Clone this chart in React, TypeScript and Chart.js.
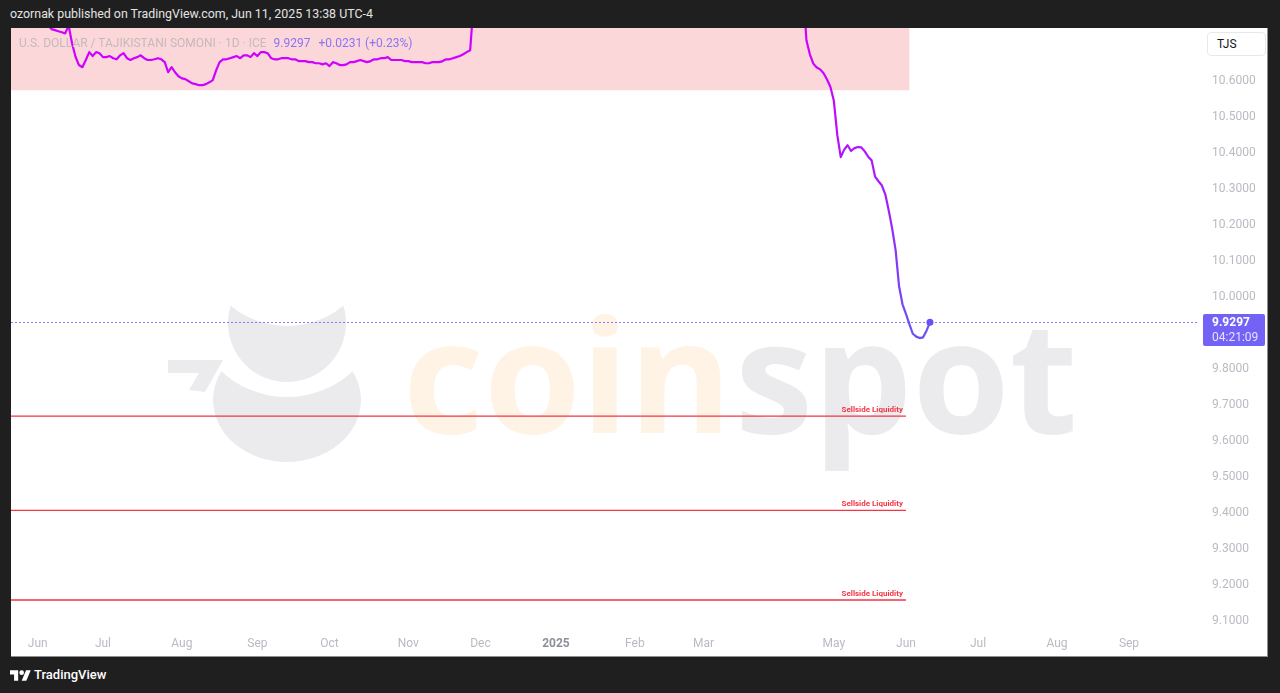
import React, { useEffect, useRef } from 'react';
import { Chart, registerables } from 'chart.js';

Chart.register(...registerables);

// ---------- data ----------
// bar index: 0 = first trading day of Jul 2024 (daily, weekdays only)
const barIndex = [
  -27, -24, -20, -17, -16, -15, -14, -13, -12, -11, -10, -9, -8, -7, -6, -5, -4, -3, -2, -1,
  0, 1, 2, 3, 4, 5, 6, 7, 8, 9, 10, 11, 12, 13, 14, 15, 16, 17, 18, 19,
  20, 21, 22, 23, 24, 25, 26, 27, 28, 29, 30, 31, 32, 33, 34, 35, 36, 37, 38, 39,
  40, 41, 42, 43, 44, 45, 46, 47, 48, 49, 50, 51, 52, 53, 54, 55, 56, 57, 58, 59,
  60, 61, 62, 63, 64, 65, 66, 67, 68, 69, 70, 71, 72, 73, 74, 75, 76, 77, 78, 79,
  80, 81, 82, 83, 84, 85, 86, 87, 88, 89, 90, 91, 92, 93, 94, 95, 96, 97, 98, 99,
  100, 101, 102, 103, 104, 105, 106, 107, 108, 110, 114, 120, 128, 136, 146, 156, 166, 176, 186, 194,
  200, 203, 204, 205, 206, 207, 208, 209, 210, 211, 212, 213, 214, 215, 216, 217, 218, 219, 220, 221,
  222, 223, 224, 225, 226, 227, 228, 229, 230, 231, 232, 233, 234, 235, 236, 237, 238, 239, 240, 241,
];
const closes = [
  10.780, 10.792, 10.772, 10.764, 10.756, 10.745, 10.742, 10.739, 10.736, 10.733, 10.755, 10.705, 10.668, 10.645, 10.639, 10.659, 10.681, 10.670, 10.681, 10.678,
  10.667, 10.667, 10.670, 10.664, 10.661, 10.672, 10.678, 10.664, 10.659, 10.664, 10.667, 10.672, 10.664, 10.659, 10.659, 10.661, 10.664, 10.661, 10.653, 10.625,
  10.639, 10.625, 10.614, 10.608, 10.606, 10.600, 10.594, 10.592, 10.589, 10.589, 10.592, 10.597, 10.603, 10.631, 10.653, 10.661, 10.661, 10.664, 10.667, 10.670,
  10.664, 10.672, 10.672, 10.667, 10.678, 10.670, 10.681, 10.681, 10.678, 10.664, 10.661, 10.661, 10.664, 10.664, 10.664, 10.661, 10.661, 10.656, 10.656, 10.656,
  10.653, 10.653, 10.650, 10.650, 10.647, 10.650, 10.642, 10.653, 10.650, 10.645, 10.645, 10.647, 10.653, 10.653, 10.656, 10.659, 10.656, 10.653, 10.656, 10.661,
  10.661, 10.664, 10.664, 10.667, 10.659, 10.659, 10.659, 10.659, 10.656, 10.656, 10.653, 10.653, 10.653, 10.653, 10.650, 10.650, 10.653, 10.653, 10.653, 10.656,
  10.661, 10.661, 10.664, 10.667, 10.670, 10.675, 10.681, 10.686, 10.815, 10.905, 10.930, 10.942, 10.936, 10.948, 10.951, 10.944, 10.955, 10.950, 10.948, 10.940,
  10.920, 10.895, 10.860, 10.714, 10.675, 10.649, 10.638, 10.633, 10.622, 10.605, 10.584, 10.545, 10.450, 10.389, 10.410, 10.422, 10.406, 10.414, 10.417, 10.416,
  10.405, 10.390, 10.380, 10.335, 10.322, 10.310, 10.285, 10.240, 10.190, 10.130, 10.030, 9.980, 9.953, 9.925, 9.898, 9.890, 9.886, 9.888, 9.9066, 9.9297,
];

const monthTickBars = [-19, 0, 23, 45, 66, 89, 110, 132, 155, 175, 213, 234, 255, 278, 299];
const monthTickLabels = ['Jun', 'Jul', 'Aug', 'Sep', 'Oct', 'Nov', 'Dec', '2025', 'Feb', 'Mar', 'May', 'Jun', 'Jul', 'Aug', 'Sep'];

const priceTicks = [9.1, 9.2, 9.3, 9.4, 9.5, 9.6, 9.7, 9.8, 9.9, 10.0, 10.1, 10.2, 10.3, 10.4, 10.5, 10.6];
const hiddenPriceTicks = [9.9];

const liquidityLevels = [9.669, 9.407, 9.158];
const liquidityEndBar = 234;
const liquidityLabel = 'Sellside Liquidity';

const zoneEndBar = 235;
const zoneBottom = 10.575;

const lastPrice = 9.9297;
const priceChange = '+0.0231 (+0.23%)';
const countdown = '04:21:09';

const X_MIN = -26.8;
const X_MAX = 319.4;
const Y_MIN = 9.080;
const Y_MAX = 10.748;

const FONT = 'Roboto, "Noto Sans", Arial, sans-serif';

function drawWatermark(ctx: CanvasRenderingContext2D) {
  // canvas placed at page (11, 28)
  const ox = -11;
  const oy = -28;
  const gray = '#ebebee';
  ctx.save();
  ctx.translate(ox, oy);
  // lower body
  ctx.save();
  ctx.beginPath();
  ctx.rect(0, 0, 1400, 800);
  ctx.arc(287, 300, 97, 0, Math.PI * 2);
  ctx.clip('evenodd');
  ctx.fillStyle = gray;
  ctx.beginPath();
  ctx.ellipse(287, 400, 74, 62, 0, 0, Math.PI * 2);
  ctx.fill();
  ctx.restore();
  // upper head
  ctx.save();
  ctx.beginPath();
  ctx.rect(0, 0, 1400, 800);
  ctx.arc(287, 238, 88, 0, Math.PI * 2);
  ctx.clip('evenodd');
  ctx.fillStyle = gray;
  ctx.beginPath();
  ctx.arc(287, 323, 59, 0, Math.PI * 2);
  ctx.fill();
  ctx.restore();
  // small hook
  ctx.fillStyle = gray;
  ctx.beginPath();
  ctx.moveTo(168, 360);
  ctx.lineTo(223, 360);
  ctx.lineTo(205, 392);
  ctx.lineTo(189, 390);
  ctx.lineTo(199, 373);
  ctx.lineTo(168, 373);
  ctx.closePath();
  ctx.fill();
  // text
  ctx.font = 'bold 157px "Open Sans", sans-serif';
  ctx.textBaseline = 'alphabetic';
  ctx.textAlign = 'left';
  ctx.fillStyle = '#fef3e4';
  ctx.fillText('coin', 403, 433);
  const w = ctx.measureText('coin').width;
  ctx.fillStyle = gray;
  ctx.fillText('spot', 403 + w + 3, 433);
  ctx.restore();
}

const overlayPlugin = {
  id: 'tvOverlay',
  beforeDatasetsDraw(chart: any) {
    const { ctx, chartArea, scales } = chart;
    const x = scales.x;
    const y = scales.y;
    drawWatermark(ctx);
    // zone rectangle
    ctx.save();
    ctx.fillStyle = 'rgba(242,54,69,0.2)';
    const x1 = x.getPixelForValue(zoneEndBar);
    const y1 = y.getPixelForValue(zoneBottom);
    ctx.fillRect(chartArea.left, chartArea.top, x1 - chartArea.left, y1 - chartArea.top);
    // dotted last price line
    const yy = Math.round(y.getPixelForValue(lastPrice)) + 0.5;
    ctx.strokeStyle = 'rgba(110,90,255,0.8)';
    ctx.lineWidth = 1;
    ctx.setLineDash([2, 2]);
    ctx.beginPath();
    ctx.moveTo(chartArea.left, yy);
    ctx.lineTo(chartArea.right, yy);
    ctx.stroke();
    ctx.restore();
  },
  afterDatasetsDraw(chart: any) {
    const { ctx, scales } = chart;
    const x = scales.x;
    const y = scales.y;
    ctx.save();
    ctx.font = `bold 8px ${FONT}`;
    ctx.fillStyle = '#f23645';
    ctx.textAlign = 'right';
    ctx.textBaseline = 'alphabetic';
    const xr = x.getPixelForValue(liquidityEndBar) - 3;
    liquidityLevels.forEach((lvl) => {
      ctx.fillText(liquidityLabel, xr, y.getPixelForValue(lvl) - 4);
    });
    ctx.restore();
  },
  afterDraw(chart: any) {
    const { ctx, chartArea, scales } = chart;
    const y = scales.y;
    const yy = y.getPixelForValue(lastPrice);
    const bx = chartArea.right + 4;
    const by = Math.round(yy) - 8;
    ctx.save();
    ctx.fillStyle = '#7262f5';
    ctx.beginPath();
    (ctx as any).roundRect(bx, by, 62, 32, 2);
    ctx.fill();
    ctx.textAlign = 'left';
    ctx.textBaseline = 'middle';
    ctx.fillStyle = '#ffffff';
    ctx.font = `bold 12px ${FONT}`;
    ctx.fillText(lastPrice.toFixed(4), bx + 9, by + 9);
    ctx.fillStyle = 'rgba(255,255,255,0.82)';
    ctx.font = `12px ${FONT}`;
    ctx.fillText(countdown, bx + 9, by + 24);
    ctx.restore();
  },
};

function lineGradient(context: any) {
  const chart = context.chart;
  const { chartArea, scales } = chart;
  if (!chartArea || !scales || !scales.y) return '#c000ff';
  const y0 = scales.y.getPixelForValue(10.65);
  const y1 = scales.y.getPixelForValue(9.9);
  const g = chart.ctx.createLinearGradient(0, y0, 0, y1);
  g.addColorStop(0, '#d000ff');
  g.addColorStop(0.45, '#a51cff');
  g.addColorStop(1, '#6a52f2');
  return g;
}

export default function App() {
  const canvasRef = useRef<HTMLCanvasElement | null>(null);

  useEffect(() => {
    if (!canvasRef.current) return;
    const mainData = barIndex.map((b, i) => ({ x: b, y: closes[i] }));
    const lastIdx = mainData.length - 1;
    const liqSets = liquidityLevels.map((lvl) => ({
      data: [
        { x: X_MIN, y: lvl },
        { x: liquidityEndBar, y: lvl },
      ],
      borderColor: '#f23645',
      borderWidth: 1.4,
      pointRadius: 0,
      tension: 0,
    }));
    const chart = new Chart(canvasRef.current, {
      type: 'line',
      data: {
        datasets: [
          {
            data: mainData,
            borderColor: lineGradient,
            backgroundColor: '#6a52f2',
            borderWidth: 2.2,
            tension: 0,
            pointRadius: (c: any) => (c.dataIndex === lastIdx ? 3.5 : 0),
            pointBackgroundColor: '#6a52f2',
            pointBorderWidth: 0,
            borderJoinStyle: 'round',
          } as any,
          ...liqSets,
        ],
      },
      options: {
        animation: false,
        responsive: false,
        events: [],
        layout: { padding: 0, autoPadding: false },
        plugins: {
          legend: { display: false },
          tooltip: { enabled: false },
        },
        scales: {
          x: {
            type: 'linear',
            min: X_MIN,
            max: X_MAX,
            grid: { display: false, drawTicks: false },
            border: { display: false },
            afterBuildTicks: (s: any) => {
              s.ticks = monthTickBars.map((v) => ({ value: v }));
            },
            afterFit: (s: any) => {
              s.height = 28;
              s.paddingLeft = 0;
              s.paddingRight = 0;
              s.paddingTop = 0;
              s.paddingBottom = 0;
            },
            ticks: {
              autoSkip: false,
              maxRotation: 0,
              padding: 9,
              font: (c: any) => ({
                family: FONT,
                size: 12,
                weight: c.tick && c.tick.label === '2025' ? 'bold' : 'normal',
              }),
              color: (c: any) => (c.tick && c.tick.label === '2025' ? '#8d909a' : '#b8bbc2'),
              callback: (v: any) => {
                const i = monthTickBars.indexOf(Number(v));
                return i >= 0 ? monthTickLabels[i] : '';
              },
            },
          },
          y: {
            type: 'linear',
            position: 'right',
            min: Y_MIN,
            max: Y_MAX,
            grid: { display: false, drawTicks: false },
            border: { display: false },
            afterBuildTicks: (s: any) => {
              s.ticks = priceTicks.map((v) => ({ value: v }));
            },
            afterFit: (s: any) => {
              s.width = 68;
              s.paddingLeft = 0;
              s.paddingRight = 0;
              s.paddingTop = 0;
              s.paddingBottom = 0;
            },
            ticks: {
              padding: 13,
              font: { family: FONT, size: 12 },
              color: '#b8bbc2',
              callback: (v: any) => {
                const n = Number(v);
                if (hiddenPriceTicks.some((h) => Math.abs(h - n) < 1e-6)) return '';
                return n.toFixed(4);
              },
            },
          },
        },
      } as any,
      plugins: [overlayPlugin],
    });
    return () => chart.destroy();
  }, []);

  return (
    <div
      style={{
        position: 'fixed',
        left: 0,
        top: 0,
        width: 1280,
        height: 693,
        background: '#1f1f1f',
        fontFamily: FONT,
        overflow: 'hidden',
      }}
    >
      <div
        style={{
          position: 'absolute',
          left: 10,
          top: 6,
          fontSize: 12.4,
          lineHeight: '16px',
          color: '#e3e3e3',
          whiteSpace: 'pre',
        }}
      >
        ozornak published on TradingView.com, Jun 11, 2025 13:38 UTC-4
      </div>
      <div
        style={{
          position: 'absolute',
          left: 11,
          top: 28,
          width: 1256,
          height: 628,
          background: '#ffffff',
          borderRight: '1px solid #8f8f8f',
          borderBottom: '1px solid #8f8f8f',
        }}
      >
        <canvas
          ref={canvasRef}
          width={1256}
          height={628}
          style={{ position: 'absolute', left: 0, top: 0, width: 1256, height: 628 }}
        />
        <div
          style={{
            position: 'absolute',
            left: 8,
            top: 8,
            fontSize: 12,
            lineHeight: '15px',
            color: '#c6b8bc',
            whiteSpace: 'pre',
          }}
        >
          U.S. DOLLAR / TAJIKISTANI SOMONI · 1D · ICE
          <span style={{ color: '#8a74f3', marginLeft: 7 }}>{lastPrice.toFixed(4)}</span>
          <span style={{ color: '#8a74f3', marginLeft: 8 }}>{priceChange}</span>
        </div>
        <div
          style={{
            position: 'absolute',
            left: 1196,
            top: 4,
            width: 48,
            height: 22,
            border: '1px solid #e6e8ee',
            borderRadius: 4,
            background: '#ffffff',
            fontSize: 12,
            lineHeight: '22px',
            color: '#131722',
            paddingLeft: 9,
            boxSizing: 'content-box',
          }}
        >
          TJS
        </div>
      </div>
      <div
        style={{
          position: 'absolute',
          left: 10,
          top: 667,
          display: 'flex',
          alignItems: 'center',
          gap: 3,
          color: '#ffffff',
          fontSize: 13,
          fontWeight: 500,
        }}
      >
        <svg width="21" height="14" viewBox="0 0 36 24">
          <path d="M14 22H7V11H0V4h14v18z" fill="#fff" />
          <circle cx="20" cy="8" r="4" fill="#fff" />
          <path d="M28 22h-8l7.5-18h8L28 22z" fill="#fff" />
        </svg>
        <span>TradingView</span>
      </div>
    </div>
  );
}
